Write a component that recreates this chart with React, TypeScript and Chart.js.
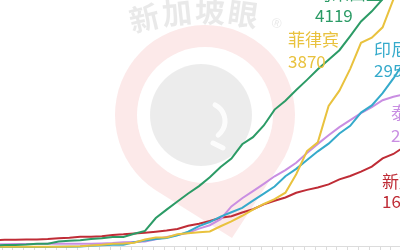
import { useEffect, useRef } from "react";
import { Chart, registerables } from "chart.js";

Chart.register(...registerables);

// Cumulative confirmed COVID-19 cases, 29 Feb – 8 Apr 2020
const dates = [
  "2/29",
  "3/1", "3/2", "3/3", "3/4", "3/5", "3/6", "3/7", "3/8", "3/9", "3/10",
  "3/11", "3/12", "3/13", "3/14", "3/15", "3/16", "3/17", "3/18", "3/19", "3/20",
  "3/21", "3/22", "3/23", "3/24", "3/25", "3/26", "3/27", "3/28", "3/29", "3/30", "3/31",
  "4/1", "4/2", "4/3", "4/4", "4/5", "4/6", "4/7", "4/8",
];

const malaysia = [
  25, 29, 29, 36, 50, 50, 83, 93, 99, 117, 129, 149, 149, 197, 238, 428, 553, 673, 790, 900,
  1030, 1183, 1306, 1518, 1624, 1796, 2031, 2161, 2320, 2470, 2626, 2766, 2908, 3116, 3333, 3483,
  3662, 3793, 3963, 4119,
];
const philippines = [
  3, 3, 3, 3, 3, 3, 5, 6, 10, 24, 33, 49, 52, 64, 111, 140, 142, 187, 202, 217,
  230, 307, 380, 462, 552, 636, 707, 803, 1075, 1418, 1546, 2084, 2311, 2633, 3018, 3094,
  3246, 3660, 3764, 3870,
];
const indonesia = [
  0, 0, 2, 2, 2, 2, 4, 4, 6, 19, 27, 34, 34, 69, 96, 117, 134, 172, 227, 309,
  369, 450, 514, 579, 686, 790, 893, 1046, 1155, 1285, 1414, 1528, 1677, 1790, 1986, 2092,
  2273, 2491, 2738, 2956,
];
const thailand = [
  42, 42, 43, 43, 43, 47, 48, 50, 50, 50, 53, 59, 70, 75, 82, 114, 147, 177, 212, 272,
  322, 411, 599, 721, 827, 934, 1045, 1136, 1245, 1388, 1524, 1651, 1771, 1875, 1978, 2067,
  2169, 2220, 2258, 2369,
];
const singapore = [
  102, 106, 108, 110, 112, 117, 130, 138, 150, 150, 160, 178, 187, 200, 212, 226, 243, 266, 313, 345,
  385, 432, 455, 509, 558, 631, 683, 732, 802, 844, 879, 926, 1000, 1049, 1114, 1189,
  1309, 1375, 1481, 1623,
];

const seriesNames = ["马来西亚", "菲律宾", "印尼", "泰国", "新加坡"];
const seriesValues = [malaysia, philippines, indonesia, thailand, singapore];
const seriesColors = ["#2c9b66", "#e9c23e", "#35aacb", "#c98ee2", "#bf2c36"];

// End-label placement relative to each series' last point: [dx, dy of name line, dy of value line]
const labelPlacement: [number, number, number][] = [
  [-100, 25, 47],
  [-127, 54, 76],
  [-41, 3, 24],
  [-24, 26, 49],
  [-33, 44, 64],
];

const LABEL_FONT = "17px 'Noto Sans CJK SC', 'Noto Sans', sans-serif";

// Faint "新加坡眼" logo behind the plot
const watermarkPlugin = {
  id: "watermark",
  beforeDraw(chart: Chart) {
    const { ctx, width, height } = chart;
    ctx.save();
    ctx.fillStyle = "#ffffff";
    ctx.fillRect(0, 0, width, height);

    const cx = 205;
    const cy = 115;
    const R = 90;
    const tipX = 232;
    const tipY = 238;
    const dx = tipX - cx;
    const dy = tipY - cy;
    const d = Math.hypot(dx, dy);
    const base = Math.atan2(dy, dx);
    const half = Math.acos(R / d);

    // pin outline
    ctx.beginPath();
    ctx.moveTo(tipX, tipY);
    ctx.arc(cx, cy, R, base - half, base + half - Math.PI * 2, true);
    ctx.closePath();
    ctx.fillStyle = "rgba(228, 70, 70, 0.12)";
    ctx.fill();

    ctx.beginPath();
    ctx.arc(cx, cy, 68, 0, Math.PI * 2);
    ctx.fillStyle = "#ffffff";
    ctx.fill();

    ctx.beginPath();
    ctx.arc(cx - 4, cy, 51, 0, Math.PI * 2);
    ctx.fillStyle = "rgba(0, 0, 0, 0.075)";
    ctx.fill();

    ctx.strokeStyle = "rgba(255,255,255,0.85)";
    ctx.lineWidth = 5;
    ctx.lineCap = "round";
    ctx.beginPath();
    ctx.arc(cx + 2, cy + 6, 18, -1.1, 0.9);
    ctx.stroke();
    ctx.beginPath();
    ctx.moveTo(cx + 8, cy + 28);
    ctx.lineTo(cx + 18, cy + 33);
    ctx.stroke();

    // arched brand text
    const arcCx = 205;
    const arcCy = 271;
    const arcR = 260;
    const chars = ["新", "加", "坡", "眼"];
    const angles = [-0.236, -0.108, 0.019, 0.147];
    ctx.fillStyle = "rgba(0, 0, 0, 0.085)";
    ctx.textAlign = "center";
    ctx.textBaseline = "middle";
    ctx.font = "bold 30px 'Noto Sans CJK SC', sans-serif";
    chars.forEach((ch, i) => {
      const a = angles[i];
      ctx.save();
      ctx.translate(arcCx + arcR * Math.sin(a), arcCy - arcR * Math.cos(a));
      ctx.rotate(a);
      ctx.fillText(ch, 0, 0);
      ctx.restore();
    });
    ctx.font = "13px 'Noto Sans', sans-serif";
    ctx.save();
    const ra = 0.278;
    ctx.translate(arcCx + arcR * Math.sin(ra), arcCy - arcR * Math.cos(ra) + 3);
    ctx.rotate(ra);
    ctx.fillText("®", 0, 0);
    ctx.restore();

    ctx.restore();
  },
};

// Country name and latest total beside each line's end
const endLabelPlugin = {
  id: "endLabels",
  afterDatasetsDraw(chart: Chart) {
    const { ctx } = chart;
    ctx.save();
    ctx.font = LABEL_FONT;
    ctx.textAlign = "left";
    ctx.textBaseline = "middle";
    chart.data.datasets.forEach((ds, i) => {
      const meta = chart.getDatasetMeta(i);
      const last = meta.data[meta.data.length - 1];
      if (!last) return;
      const values = seriesValues[i];
      const [ox, oyName, oyValue] = labelPlacement[i];
      ctx.fillStyle = ds.borderColor as string;
      ctx.fillText(seriesNames[i], last.x + ox, last.y + oyName);
      ctx.fillText(String(values[values.length - 1]), last.x + ox, last.y + oyValue);
    });
    ctx.restore();
  },
};

export default function App() {
  const canvasRef = useRef<HTMLCanvasElement>(null);

  useEffect(() => {
    const canvas = canvasRef.current;
    if (!canvas) return;

    const chart = new Chart(canvas, {
      type: "line",
      data: {
        labels: dates,
        datasets: seriesValues.map((vals, i) => ({
          label: seriesNames[i],
          data: vals.map((v, k) => ({ x: k, y: v })),
          borderColor: seriesColors[i],
          backgroundColor: seriesColors[i],
          borderWidth: 2,
          pointRadius: 0,
          tension: 0,
          clip: false as const,
        })),
      },
      options: {
        animation: false,
        responsive: false,
        devicePixelRatio: 1,
        layout: { padding: 0 },
        plugins: {
          legend: { display: false },
          tooltip: { enabled: false },
          title: { display: false },
        },
        scales: {
          x: {
            type: "linear",
            min: 0.574,
            max: 37.61,
            // day separators sit just before each day's point
            afterBuildTicks: (scale: any) => {
              scale.ticks = dates.map((_, i) => ({ value: i - 0.24 }));
            },
            ticks: { display: false },
            grid: {
              drawOnChartArea: false,
              drawTicks: true,
              tickLength: 4,
              color: "#dcdcdc",
            },
            border: { display: true, color: "#dcdcdc" },
          },
          y: {
            type: "linear",
            min: 15,
            max: 3650,
            ticks: { display: false, stepSize: 500 },
            grid: {
              drawTicks: false,
              color: (c: any) => (c.tick && c.tick.value % 500 === 0 ? "#e2e2e2" : "rgba(0,0,0,0)"),
            },
            border: { display: false },
          },
        },
      },
      plugins: [watermarkPlugin, endLabelPlugin],
    });

    return () => chart.destroy();
  }, []);

  return (
    <div
      style={{
        position: "fixed",
        left: 0,
        top: 0,
        width: 400,
        height: 250,
        overflow: "hidden",
        background: "#ffffff",
      }}
    >
      <canvas ref={canvasRef} width={400} height={250} style={{ display: "block", width: 400, height: 250 }} />
    </div>
  );
}
